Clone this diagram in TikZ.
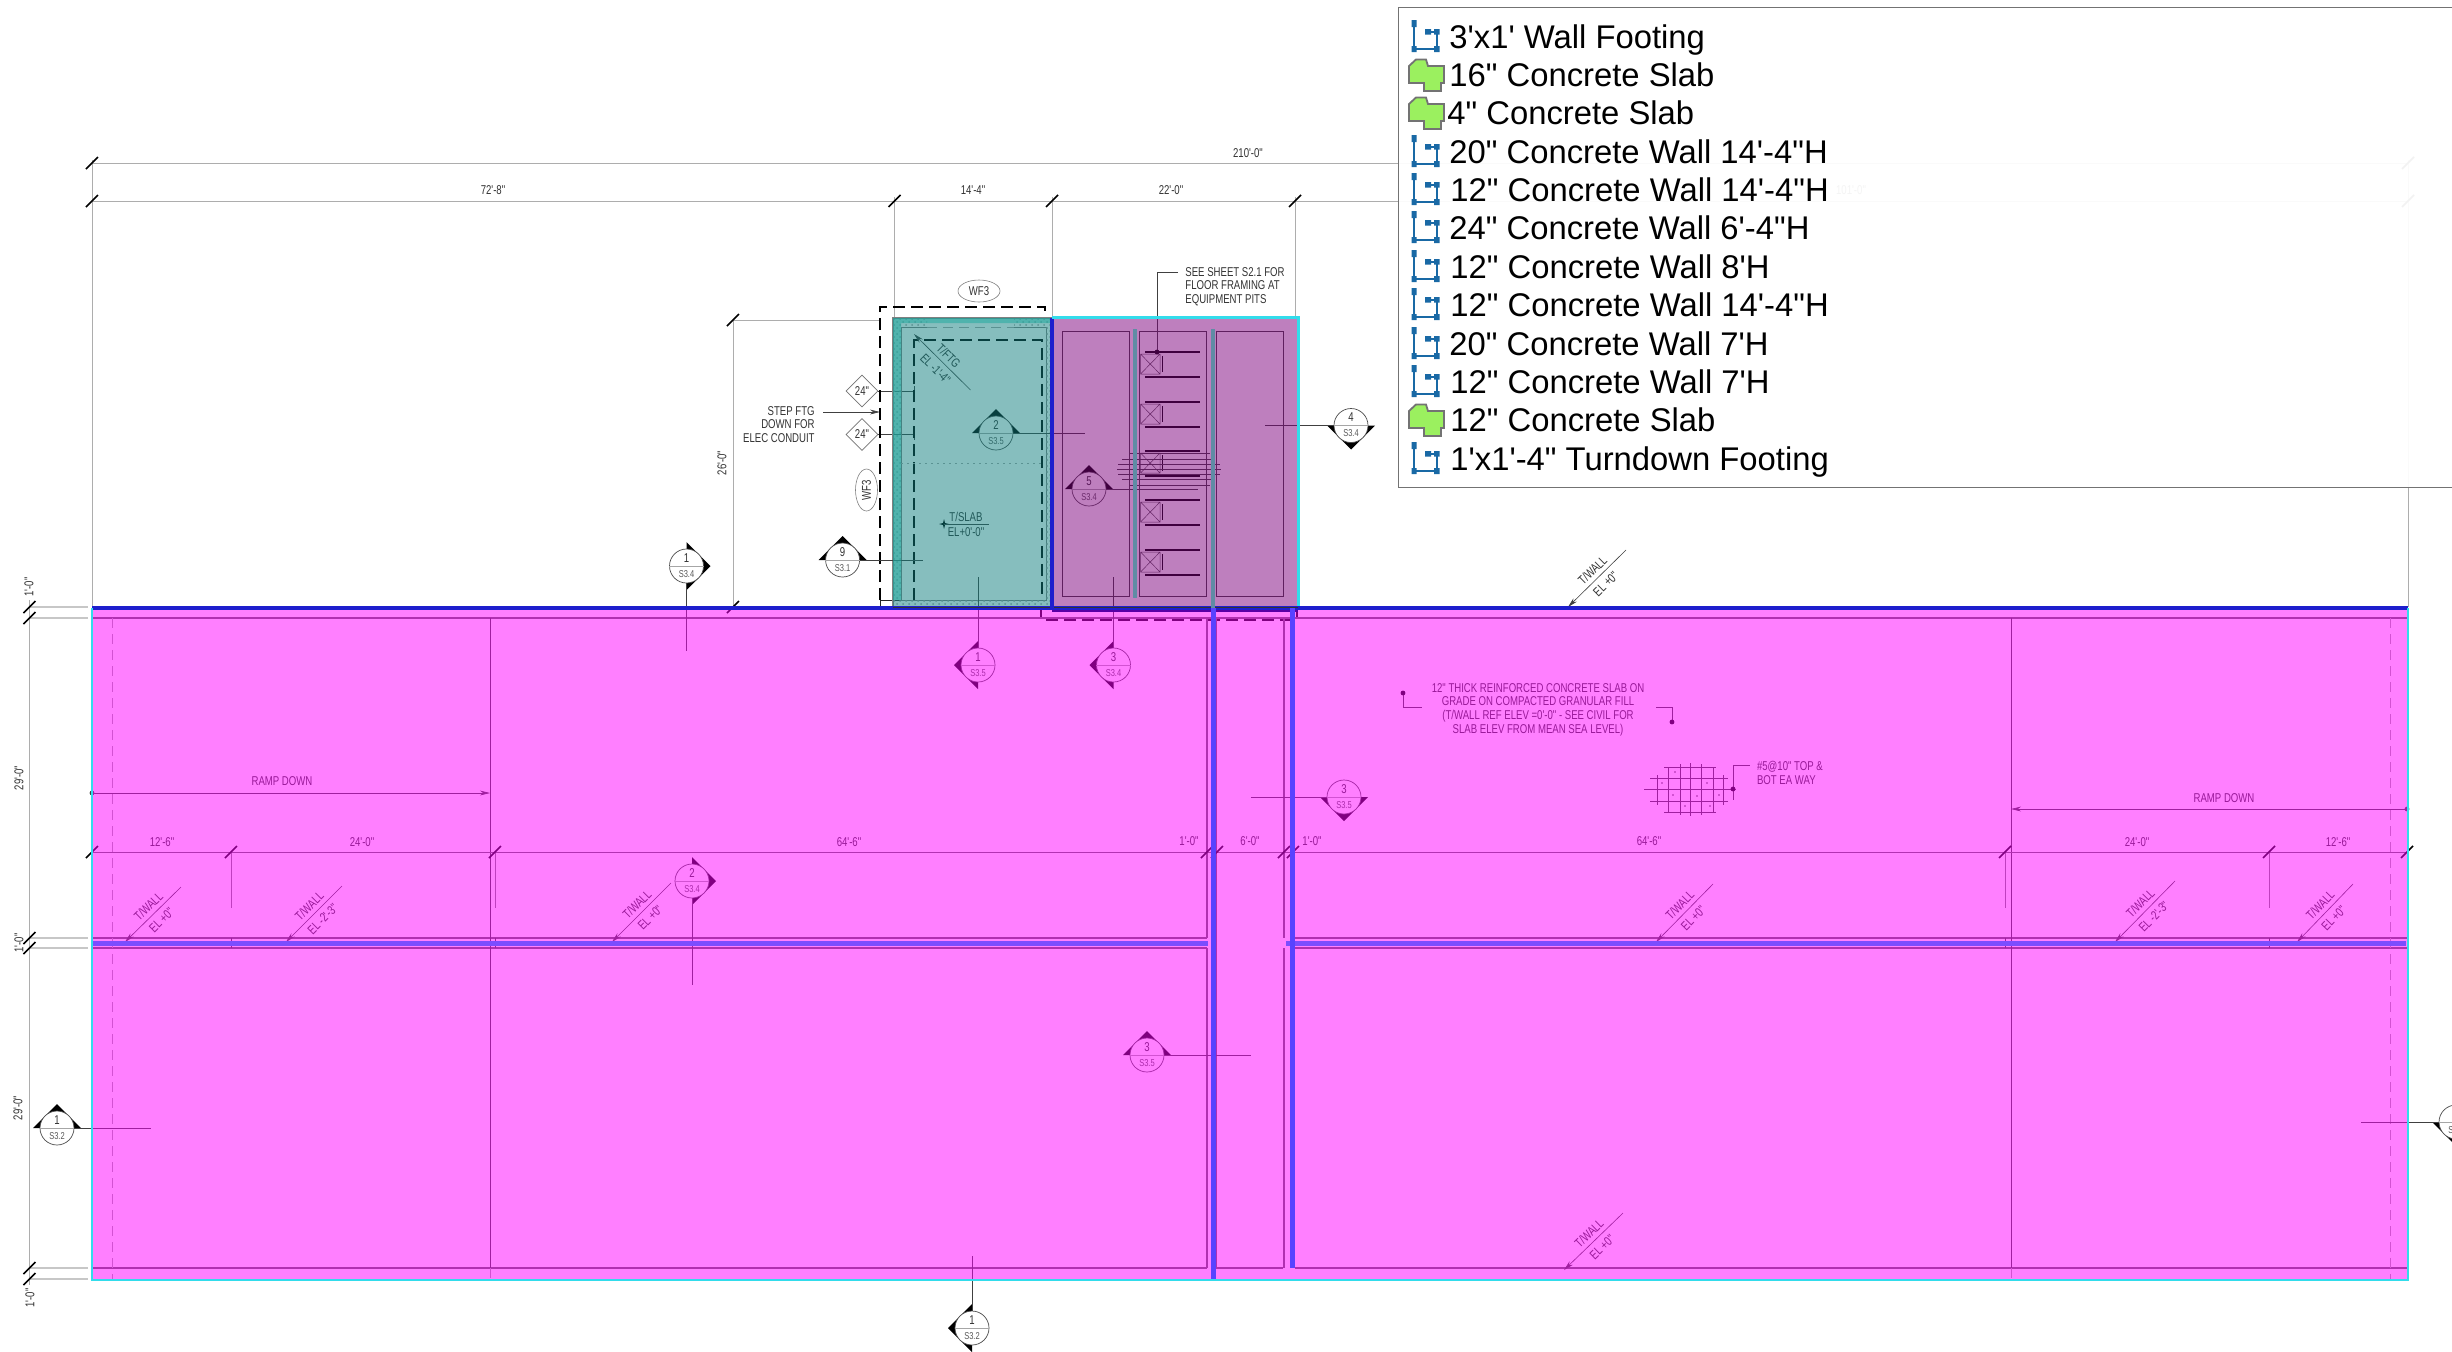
\documentclass[tikz,border=0pt]{standalone}
\usepackage{fontspec}
\newfontfamily\cadfont[FakeStretch=0.75]{Liberation Sans}
\newfontfamily\legendfont{Liberation Sans}
\usetikzlibrary{shapes.geometric, arrows.meta, patterns}

\definecolor{slabmagenta}{RGB}{255,0,255}
\definecolor{pitteal}{RGB}{15,127,127}
\definecolor{pitpurple}{RGB}{127,0,127}
\definecolor{wallblue}{RGB}{123,77,255}
\definecolor{wallside}{RGB}{88,66,255}
\definecolor{walldark}{RGB}{30,30,205}
\definecolor{edgecyan}{RGB}{50,220,235}
\definecolor{barslate}{RGB}{95,140,165}
\definecolor{hatchteal}{RGB}{35,170,160}
\definecolor{iconblue}{RGB}{25,105,165}
\definecolor{icongreen}{RGB}{155,240,95}

\tikzstyle{dimline} = [black!32, line width=0.45pt]
\tikzstyle{extline} = [black!22, line width=0.8pt]
\tikzstyle{edgeline} = [black!62, line width=0.6pt]
\tikzstyle{thinline} = [black!75, line width=0.3pt]
\tikzstyle{tickline} = [black, line width=0.8pt]
\tikzstyle{leader} = [black!75, line width=0.45pt]
\tikzstyle{arrow} = [black!75, line width=0.3pt, -{Stealth[length=5pt,width=2.4pt]}]
\tikzstyle{hidden} = [black, line width=0.55pt, dash pattern=on 6pt off 3pt]
\tikzstyle{faintdash} = [black!35, line width=0.3pt, dash pattern=on 5pt off 3pt]
\tikzstyle{cadtext} = [inner sep=0pt, text=black!80, font=\cadfont\fontsize{6.4}{6.8}\selectfont, align=center]
\tikzstyle{bubble} = [circle, draw=black!70, fill=white, line width=0.35pt, inner sep=0pt, minimum size=17pt]
\tikzstyle{secnum} = [cadtext, font=\cadfont\fontsize{6.4}{7}\selectfont]
\tikzstyle{secsheet} = [cadtext, text=black!65, font=\cadfont\fontsize{5}{6}\selectfont]
\tikzstyle{tagoval} = [ellipse, draw=black!50, line width=0.3pt, cadtext, minimum width=21pt, minimum height=11pt]
\tikzstyle{tagdiamond} = [diamond, draw=black!55, line width=0.3pt, cadtext, minimum size=16pt]
\tikzstyle{legendtext} = [inner sep=0pt, anchor=base west, text=black, font=\legendfont\fontsize{16.4}{18}\selectfont]

\tikzset{
  wallicon/.pic={
    \draw[iconblue, line width=1.1pt] (-11,-14) -- (-11,12) -- (11.7,12) -- (11.7,-5.3) -- (3,-5.3);
    \fill[iconblue] (-13.5,-17) rectangle (-8.5,-10) (-13.5,9) rectangle (-8.5,15)
      (9,9) rectangle (14.5,15) (9,-8) rectangle (14.5,-2.5) (0,-8) rectangle (6,-2.5);
  },
  slabicon/.pic={
    \draw[black!55, fill=icongreen, line width=0.9pt] (-16,-9) -- (-9,-15.5) -- (1,-15.5) -- (3,-9)
      -- (19,-9) -- (19,8) -- (16,8) -- (16,16) -- (-1,16) -- (-1,8) -- (-16,8) -- cycle;
  }
}

\newcommand{\dimtick}[2]{\draw[tickline] (#1-6,#2+6) -- (#1+6,#2-6);}
% name, x, y, rotation of the point, number, sheet
\newcommand{\secmark}[6]{
  \fill[black, shift={(#2,#3)}, rotate=#4] (0,-24) -- (-24,0) -- (24,0) -- cycle;
  \node[bubble] (#1) at (#2,#3) {};
  \draw[black!35, line width=0.3pt] (#1.west) -- (#1.east);
  \node[secnum] (#1num) at (#2,#3-8) {#5};
  \node[secsheet] (#1sheet) at (#2,#3+8) {#6};
}
% name, low end x, low end y, high end x, high end y, upper text, lower text
\newcommand{\elevtag}[7]{
  \coordinate (#1a) at (#2,#3);
  \coordinate (#1b) at (#4,#5);
  \draw[arrow] (#1b) -- node[cadtext, sloped, pos=.47, above=2pt] {#6} node[cadtext, sloped, pos=.47, below=2.5pt] {#7} (#1a);
}
\newcommand{\pitunit}[1]{
  \draw[black, line width=0.7pt] (1145,#1) -- (1200,#1) (1145,#1+25) -- (1200,#1+25);
  \draw[black!70, line width=0.25pt] (1140.5,#1+2) rectangle (1160,#1+22) (1140.5,#1+2) -- (1160,#1+22) (1140.5,#1+22) -- (1160,#1+2);
  \draw[black, line width=0.7pt] (1162.6,#1+4) -- (1162.6,#1+20);
}

\begin{document}
\begin{tikzpicture}[x=0.5pt, y=-0.5pt]
  \useasboundingbox (0,0) rectangle (2452,1351);
  \fill[white] (0,0) rectangle (2452,1351);

  % dimensions along the top
  \draw[dimline] (92,163) -- (2408,163);
  \draw[dimline] (92,201) -- (2408,201);
  \draw[dimline] (92,160) -- (92,607);
  \draw[dimline] (2408,160) -- (2408,607);
  \draw[dimline] (894.5,197) -- (894.5,318);
  \draw[dimline] (1052,197) -- (1052,318);
  \draw[dimline] (1295,197) -- (1295,318);
  \dimtick{92}{163} \dimtick{92}{201} \dimtick{894.5}{201} \dimtick{1052}{201} \dimtick{1295}{201}
  \dimtick{2408}{163} \dimtick{2408}{201}
  \node[cadtext] (dimall) at (1248,153) {210'-0"};
  \node[cadtext] (dimleft) at (493,190) {72'-8"};
  \node[cadtext] (dimteal) at (973,190) {14'-4"};
  \node[cadtext] (dimpurple) at (1171,190) {22'-0"};
  \node[cadtext] (dimright) at (1851,190) {101'-0"};

  % dimensions along the left
  \draw[dimline] (29.5,600) -- (29.5,1285);
  \draw[extline] (30,607) -- (88,607) (30,618) -- (88,618) (30,938) -- (88,938) (30,948) -- (88,948);
  \draw[extline] (30,1268) -- (88,1268) (30,1279) -- (88,1279);
  \dimtick{29.5}{607} \dimtick{29.5}{618} \dimtick{29.5}{938} \dimtick{29.5}{948} \dimtick{29.5}{1268} \dimtick{29.5}{1279}
  \node[cadtext, rotate=90] (dimone) at (29,587) {1'-0"};
  \node[cadtext, rotate=90] (dimupper) at (19,778) {29'-0"};
  \node[cadtext, rotate=90] (dimtwo) at (19,943) {1'-0"};
  \node[cadtext, rotate=90] (dimlower) at (18,1108) {29'-0"};
  \node[cadtext, rotate=90] (dimthree) at (30,1298) {1'-0"};

  % pit dimension and step note
  \draw[dimline] (733,320) -- (733,607) (733,320) -- (880,320);
  \dimtick{733}{320} \dimtick{733}{607}
  \node[cadtext, rotate=90] (dimpit) at (722,463) {26'-0"};
  \node[cadtext, align=right, anchor=north east] (stepnote) at (815,406) {STEP FTG\\[0pt]DOWN FOR\\[0pt]ELEC CONDUIT};
  \draw[arrow] (823,412) -- (880,412);
  \node[tagoval] (wftop) at (979,291) {WF3};
  \node[tagoval, rotate=90] (wfleft) at (866.5,490) {WF3};
  \node[tagdiamond] (stepa) at (862,391) {24"};
  \node[tagdiamond] (stepb) at (862,434.5) {24"};
  \draw[leader] (stepa) -- (914,391) (914,386) -- (914,396);
  \draw[leader] (stepb) -- (914,434.5) (914,429) -- (914,440);

  % footing lines of the teal pit
  \draw[hidden] (880,600) -- (880,307) -- (1045,307) -- (1045,318);
  \draw[black!85, line width=0.45pt] (880,607) -- (880,600) -- (914,600);
  \draw[hidden] (914,600) -- (914,340) -- (1042,340) -- (1042,600);
  \draw[black!50, line width=0.3pt] (901,600) -- (901,327) -- (927,327);
  \draw[black!50, line width=0.3pt] (1014,327) -- (1046,327) -- (1046,600) -- (901,600);
  \draw[faintdash] (927,327) -- (1014,327);
  \draw[faintdash, dash pattern=on 1pt off 2pt] (901,463) -- (1042,463);
  \fill[pattern=crosshatch dots, pattern color=black!35] (893,318) rectangle (927,327) (1014,318) rectangle (1052,327)
    (893,600) rectangle (1052,607) (893,327) rectangle (901,600) (1046,327) rectangle (1052,600);
  \draw[edgeline, black!50] (893,318) rectangle (1052,608);

  % rooms of the purple pit
  \draw[thinline, line width=0.4pt] (1062.5,331) rectangle (1129,596) (1139,331) rectangle (1206,596) (1216.5,331) rectangle (1283.5,596);
  \pitunit{352}
  \pitunit{402}
  \pitunit{451}
  \pitunit{500}
  \pitunit{550}
  \draw[thinline] (1129,453) -- (1210,453) (1122,459) -- (1215,459) (1118,464) -- (1220,464) (1117,469) -- (1221,469)
    (1118,474) -- (1220,474) (1122,479) -- (1215,479) (1129,485) -- (1210,485);
  \node[cadtext, align=left, anchor=north west] (pitnote) at (1185,267) {SEE SHEET S2.1 FOR\\[0pt]FLOOR FRAMING AT\\[0pt]EQUIPMENT PITS};
  \draw[leader, line width=0.3pt] (1178,272) -- (1157,272) -- (1157,352);
  \fill[black] (1157,352) circle (1.2pt);
  \draw[hidden] (1041,607) -- (1041,620) -- (1297,620) -- (1297,607);

  % slab lines
  \draw[edgeline] (92,618) -- (2408,618);
  \draw[edgeline] (92,938) -- (1207,938) (92,948) -- (1207,948) (1295,938) -- (2408,938) (1295,948) -- (2408,948);
  \draw[edgeline] (92,1268) -- (1207,1268) (1216,1268) -- (1283,1268) (1295,1268) -- (2408,1268);
  \draw[edgeline] (1207,618) -- (1207,938) (1207,948) -- (1207,1268) (1284,618) -- (1284,938) (1284,948) -- (1284,1268);
  \draw[edgeline, line width=0.4pt] (1216,618) -- (1216,1268);
  \draw[thinline, line width=0.45pt] (490,618) -- (490,1268) (2011,618) -- (2011,1268);
  \draw[faintdash] (490,1268) -- (490,1280) (2011,1268) -- (2011,1280);
  \draw[faintdash] (112,618) -- (112,1280) (2390,618) -- (2390,1280);

  % dimensions across the slab
  \draw[dimline, black!60] (92,852) -- (2408,852);
  \draw[thinline, black!50] (231,852) -- (231,908) (495,852) -- (495,908) (2005,852) -- (2005,908) (2269,852) -- (2269,908);
  \draw[thinline] (231,938) -- (231,948) (495,938) -- (495,948) (2005,938) -- (2005,948) (2269,938) -- (2269,948);
  \dimtick{92}{852} \dimtick{231}{852} \dimtick{495}{852} \dimtick{1207}{852} \dimtick{1217}{852}
  \dimtick{1284}{852} \dimtick{1293}{852} \dimtick{2005}{852} \dimtick{2269}{852} \dimtick{2407}{852}
  \node[cadtext] (spana) at (162,842) {12'-6"};
  \node[cadtext] (spanb) at (362,842) {24'-0"};
  \node[cadtext] (spanc) at (849,842) {64'-6"};
  \node[cadtext] (spand) at (1189,841) {1'-0"};
  \node[cadtext] (spane) at (1250,841) {6'-0"};
  \node[cadtext] (spanf) at (1312,841) {1'-0"};
  \node[cadtext] (spang) at (1649,841) {64'-6"};
  \node[cadtext] (spanh) at (2137,842) {24'-0"};
  \node[cadtext] (spani) at (2338,842) {12'-6"};

  % ramp arrows
  \fill[black!75] (92,793) circle (1.2pt);
  \draw[arrow] (92,793) -- (490,793);
  \node[cadtext] (rampleft) at (282,781) {RAMP DOWN};
  \fill[black!75] (2407,809) circle (1.2pt);
  \draw[arrow] (2407,809) -- (2011,809);
  \node[cadtext] (rampright) at (2224,798) {RAMP DOWN};

  % slab note and rebar
  \node[cadtext] (slabnote) at (1538,709.5) {12" THICK REINFORCED CONCRETE SLAB ON\\[0pt]GRADE ON COMPACTED GRANULAR FILL\\[0pt](T/WALL REF ELEV =0'-0" - SEE CIVIL FOR\\[0pt]SLAB ELEV FROM MEAN SEA LEVEL)};
  \draw[thinline] (1403,693) -- (1403,707) -- (1422,707);
  \fill[black] (1403,693) circle (1.2pt);
  \draw[thinline] (1656,707) -- (1672,707) -- (1672,722);
  \fill[black] (1672,722) circle (1.2pt);
  \draw[thinline] (1664,767) -- (1716,767) (1650,778) -- (1728,778) (1644,789) -- (1736,789) (1650,801) -- (1728,801) (1664,812) -- (1716,812);
  \draw[thinline] (1657,775) -- (1657,805) (1668,768) -- (1668,812) (1680,764) -- (1680,815) (1690,763) -- (1690,816)
    (1701,764) -- (1701,815) (1713,768) -- (1713,812) (1723.5,775) -- (1723.5,805) (1733,778) -- (1733,800);
  \fill[black!70] (1662,783) circle (0.4pt) (1675,772) circle (0.4pt) (1685,806) circle (0.4pt) (1697,796) circle (0.4pt)
    (1707,783) circle (0.4pt) (1719,795) circle (0.4pt) (1673,795) circle (0.4pt) (1710,806) circle (0.4pt);
  \draw[thinline] (1733,789) -- (1733,765) -- (1750,765);
  \fill[black] (1733,789) circle (1.2pt);
  \node[cadtext, align=left, anchor=north west] (rebarnote) at (1756.6,761) {\#5@10" TOP \&\\[0pt]BOT EA WAY};

  % elevation tags
  \elevtag{twa}{125}{942}{181}{887}{T/WALL}{EL +0"}
  \elevtag{twb}{286}{942}{342}{886}{T/WALL}{EL -2'-3"}
  \elevtag{twc}{612}{942}{671}{883}{T/WALL}{EL +0"}
  \elevtag{twd}{1656}{942}{1713}{884}{T/WALL}{EL +0"}
  \elevtag{twe}{2115}{942}{2175}{881}{T/WALL}{EL -2'-3"}
  \elevtag{twf}{2297}{942}{2353}{884}{T/WALL}{EL +0"}
  \elevtag{twg}{1568}{607}{1626}{550}{T/WALL}{EL +0"}
  \elevtag{twh}{1564}{1270}{1623}{1213}{T/WALL}{EL +0"}
  \coordinate (tftga) at (914,334);
  \coordinate (tftgb) at (970.5,390);
  \draw[arrow] (tftgb) -- node[cadtext, sloped, pos=.5, above=2pt] {T/FTG} node[cadtext, sloped, pos=.5, below=2.5pt] {EL -1'-4"} (tftga);
  \node[cadtext] (tslab) at (966,517) {T/SLAB};
  \node[cadtext] (tslabel) at (966,532) {EL+0'-0"};
  \fill[black] (944,519) -- (945,523) -- (949,524) -- (945,525) -- (944,529) -- (943,525) -- (939,524) -- (943,523) -- cycle;
  \draw[thinline] (944,524) -- (989,524);

  % section marks
  \secmark{cuta}{686.5}{566}{-90}{1}{S3.4}
  \draw[leader] (cuta.south) -- (686.5,651) coordinate (cutaend);
  \secmark{cutb}{842.6}{560}{0}{9}{S3.1}
  \draw[leader] (cutb.east) -- (923,560) coordinate (cutbend);
  \secmark{cutc}{996}{433}{0}{2}{S3.5}
  \draw[leader] (cutc.east) -- (1085,433) coordinate (cutcend);
  \secmark{cutd}{1089}{489}{0}{5}{S3.4}
  \draw[leader] (cutd.east) -- (1198,489) coordinate (cutdend);
  \secmark{cute}{1351}{425.5}{180}{4}{S3.4}
  \draw[leader] (cute.west) -- (1265,425.5) coordinate (cuteend);
  \secmark{cutf}{978}{665}{90}{1}{S3.5}
  \draw[leader] (cutf.north) -- (978,577) coordinate (cutfend);
  \secmark{cutg}{1113.5}{665}{90}{3}{S3.4}
  \draw[leader] (cutg.north) -- (1113.5,577) coordinate (cutgend);
  \secmark{cuth}{1344}{797}{180}{3}{S3.5}
  \draw[leader] (cuth.west) -- (1251,797) coordinate (cuthend);
  \secmark{cuti}{692}{881}{-90}{2}{S3.4}
  \draw[leader] (cuti.south) -- (692,985) coordinate (cutiend);
  \secmark{cutj}{1147}{1055}{0}{3}{S3.5}
  \draw[leader] (cutj.east) -- (1251,1055) coordinate (cutjend);
  \secmark{cutk}{57}{1128}{0}{1}{S3.2}
  \draw[leader] (cutk.east) -- (151,1128) coordinate (cutkend);
  \secmark{cutl}{972}{1328}{90}{1}{S3.2}
  \draw[leader] (cutl.north) -- (972,1256) coordinate (cutlend);
  \secmark{cutm}{2456}{1122}{180}{1}{S3.2}
  \draw[leader] (cutm.west) -- (2361,1122) coordinate (cutmend);

  % colour areas over the drawing
  \fill[slabmagenta, opacity=.5] (92,608) rectangle (2408,1280);
  \fill[pitteal, opacity=.5] (893,318) rectangle (1052,608);
  \fill[pitpurple, opacity=.5] (1052,318) rectangle (1298,608);
  \fill[hatchteal, opacity=.55] (893,318) rectangle (1052,323) (893,323) rectangle (901,600);

  % walls over the areas
  \draw[walldark, line width=1.7pt] (92,608) -- (2408,608);
  \draw[black!80, line width=0.5pt] (893,607) -- (1298,607);
  \draw[pitpurple!70!blue, line width=1.4pt] (1052,611) -- (1298,611);
  \draw[walldark, line width=1.7pt] (1052,318) -- (1052,608);
  \draw[wallblue, line width=2.5pt] (92,943) -- (1208,943);
  \draw[wallblue, line width=2.5pt] (1286,943) -- (2406,943);
  \draw[barslate, line width=2pt] (1134.5,329) -- (1134.5,598);
  \draw[barslate, line width=2pt] (1212.5,329) -- (1212.5,608);
  \draw[wallside, line width=2.5pt] (1213,608) -- (1213,1280);
  \draw[wallside, line width=2.5pt] (1292,608) -- (1292,1268);
  \draw[edgecyan, line width=1.1pt] (92,608) -- (92,1280) -- (2408,1280) -- (2408,608);
  \draw[edgecyan, line width=1.5pt] (1052,317) -- (1298,317) -- (1298,606);

  % legend
  \draw[black!55, fill=white, fill opacity=.95, line width=0.5pt] (1398,7) rectangle (2470,487);
  \pic at (1425,37) {wallicon};
  \node[legendtext] (rowa) at (1449,48.5) {3'x1' Wall Footing};
  \pic at (1425,75) {slabicon};
  \node[legendtext] (rowb) at (1449,86.5) {16" Concrete Slab};
  \pic at (1425,113) {slabicon};
  \node[legendtext] (rowc) at (1447,124.5) {4" Concrete Slab};
  \pic at (1425,152) {wallicon};
  \node[legendtext] (rowd) at (1449,163.5) {20" Concrete Wall 14'-4"H};
  \pic at (1425,190) {wallicon};
  \node[legendtext] (rowe) at (1450,201.5) {12" Concrete Wall 14'-4"H};
  \pic at (1425,228) {wallicon};
  \node[legendtext] (rowf) at (1449,239.5) {24" Concrete Wall 6'-4"H};
  \pic at (1425,267) {wallicon};
  \node[legendtext] (rowg) at (1450,278.5) {12" Concrete Wall 8'H};
  \pic at (1425,305) {wallicon};
  \node[legendtext] (rowh) at (1450,316.5) {12" Concrete Wall 14'-4"H};
  \pic at (1425,344) {wallicon};
  \node[legendtext] (rowi) at (1449,355.5) {20" Concrete Wall 7'H};
  \pic at (1425,382) {wallicon};
  \node[legendtext] (rowj) at (1450,393.5) {12" Concrete Wall 7'H};
  \pic at (1425,420) {slabicon};
  \node[legendtext] (rowk) at (1450,431.5) {12" Concrete Slab};
  \pic at (1425,459) {wallicon};
  \node[legendtext] (rowl) at (1450,470.5) {1'x1'-4" Turndown Footing};
\end{tikzpicture}
\end{document}
